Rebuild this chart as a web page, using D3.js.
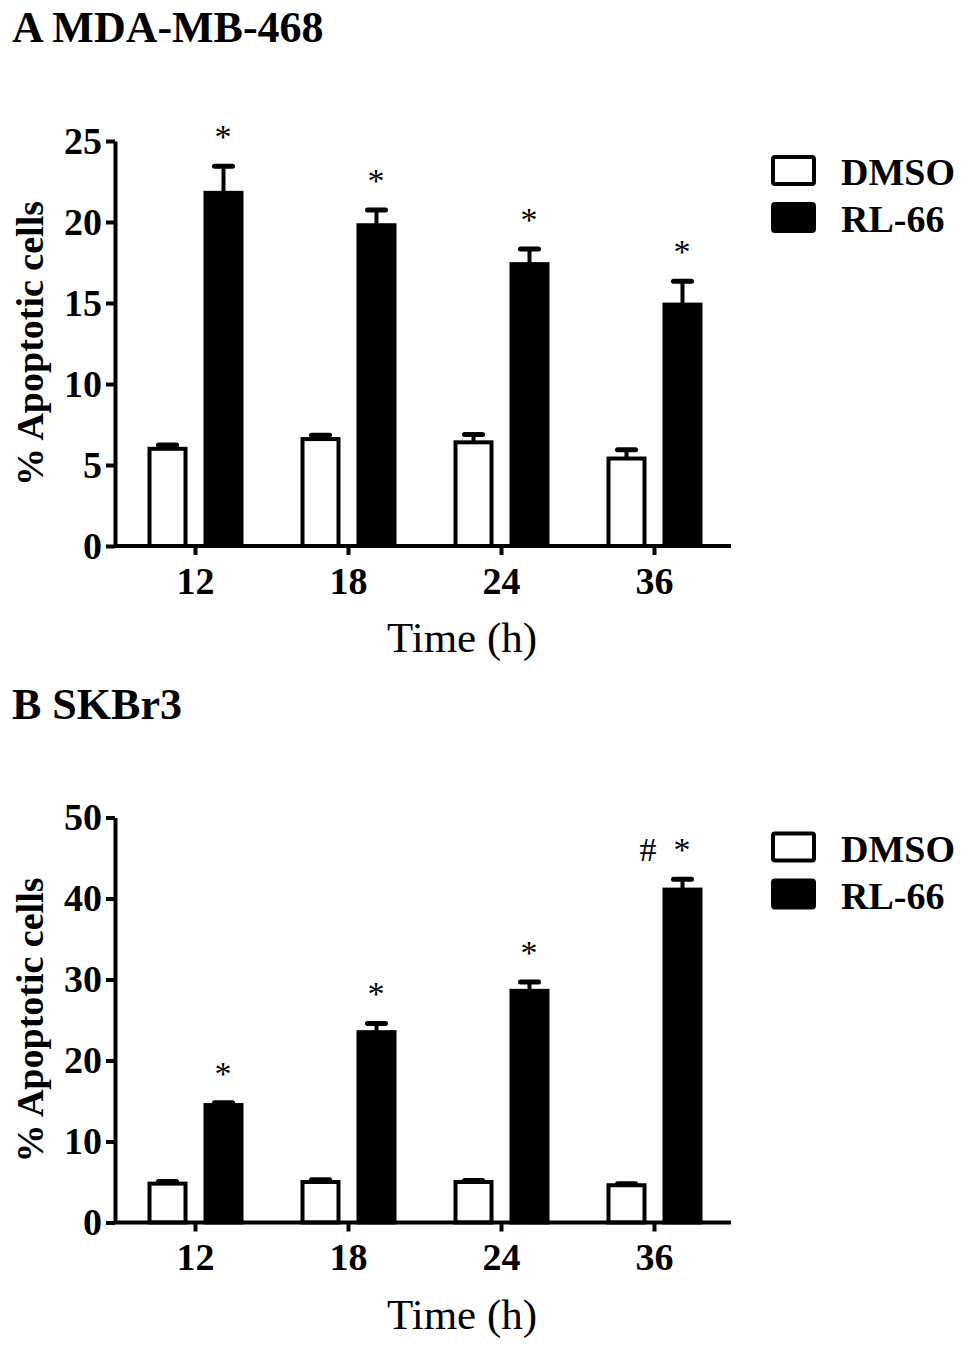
<!DOCTYPE html>
<html>
<head>
<meta charset="utf-8">
<script src="https://cdn.jsdelivr.net/npm/d3@7"></script>
<style>
    body { margin: 0; background: #fff; }
    svg text { font-family: "Liberation Serif", "Times New Roman", serif; }
</style>
</head>
<body>
<div class="wrapper"></div>
<script>
let width = 969;
let height = 1350;

const times = ["12", "18", "24", "36"];
const seriesNames = ["DMSO", "RL-66"];

// panel A, MDA-MB-468
const aDmso = [6.0, 6.6, 6.4, 5.4];
const aDmsoErr = [0.3, 0.3, 0.55, 0.6];
const aRl = [21.8, 19.8, 17.4, 14.9];
const aRlErr = [1.7, 1.0, 1.0, 1.5];
const aMarks = ["*", "*", "*", "*"];
const aTicks = [0, 5, 10, 15, 20, 25];

// panel B, SKBr3
const bDmso = [4.8, 5.0, 5.0, 4.6];
const bDmsoErr = [0.4, 0.4, 0.3, 0.3];
const bRl = [14.5, 23.5, 28.6, 41.1];
const bRlErr = [0.4, 1.2, 1.2, 1.4];
const bMarks = ["*", "*", "*", "#  *"];
const bTicks = [0, 10, 20, 30, 40, 50];

let svg = d3.select(".wrapper")
    .append("svg")
    .attr("width", width)
    .attr("height", height);

function drawPanel(top, title, dmso, dmsoErr, rl, rlErr, marks, ticks) {
    let g = svg.append("g").attr("transform", "translate(0," + top + ")");

    let axisX = 115;
    let y = d3.scaleLinear()
        .domain([0, d3.max(ticks)])
        .range([546, 141]);

    let x0 = d3.scaleBand()
        .domain(times)
        .range([119, 731]);

    let x1 = d3.scaleBand()
        .domain(seriesNames)
        .range([0, x0.bandwidth()])
        .paddingInner(0.357)
        .paddingOuter(0.545);

    let rows = times.map(function (t, i) {
        return [
            {time: t, name: "DMSO", value: dmso[i], err: dmsoErr[i]},
            {time: t, name: "RL-66", value: rl[i], err: rlErr[i], mark: marks[i]}
        ];
    });
    let bars = rows.flat();

    g.append("text")
        .attr("x", 12)
        .attr("y", 42)
        .attr("font-size", 44)
        .attr("font-weight", "bold")
        .text(title);

    // error bars (upper only)
    let err = g.selectAll(".err")
        .data(bars)
        .enter()
        .append("g")
        .classed("err", true);

    err.append("line")
        .attr("x1", function (d) {return x0(d.time) + x1(d.name) + x1.bandwidth() / 2})
        .attr("x2", function (d) {return x0(d.time) + x1(d.name) + x1.bandwidth() / 2})
        .attr("y1", function (d) {return y(d.value)})
        .attr("y2", function (d) {return y(d.value + d.err)})
        .attr("stroke", "#000")
        .attr("stroke-width", 4);

    err.append("line")
        .attr("x1", function (d) {return x0(d.time) + x1(d.name) + x1.bandwidth() / 2 - 9})
        .attr("x2", function (d) {return x0(d.time) + x1(d.name) + x1.bandwidth() / 2 + 9})
        .attr("y1", function (d) {return y(d.value + d.err) + 1})
        .attr("y2", function (d) {return y(d.value + d.err) + 1})
        .attr("stroke", "#000")
        .attr("stroke-width", 5)
        .attr("stroke-linecap", "round");

    g.selectAll(".bar")
        .data(bars)
        .enter()
        .append("rect")
        .classed("bar", true)
        .attr("x", function (d) {return x0(d.time) + x1(d.name)})
        .attr("y", function (d) {return y(d.value)})
        .attr("width", x1.bandwidth())
        .attr("height", function (d) {return y(0) - y(d.value)})
        .attr("fill", function (d) {return d.name === "DMSO" ? "#fff" : "#000"})
        .attr("stroke", "#000")
        .attr("stroke-width", 4);

    g.selectAll(".mark")
        .data(bars.filter(function (d) {return d.mark}))
        .enter()
        .append("text")
        .classed("mark", true)
        .attr("x", function (d) {return x0(d.time) + x1(d.name) + x1.bandwidth() / 2 + 8})
        .attr("y", function (d) {return y(d.value + d.err) - 17})
        .attr("text-anchor", "end")
        .attr("font-size", 34)
        .style("white-space", "pre")
        .text(function (d) {return d.mark});

    // axes
    let yAxis = g.append("g")
        .attr("transform", "translate(" + axisX + ",0)")
        .call(d3.axisLeft(y).tickValues(ticks).tickSize(9).tickSizeOuter(0).tickPadding(4));

    let xAxis = g.append("g")
        .attr("transform", "translate(0," + y(0) + ")")
        .call(d3.axisBottom(x0).tickSize(9).tickSizeOuter(0).tickPadding(12));

    xAxis.select(".domain")
        .attr("d", "M" + axisX + ",0H" + x0.range()[1]);

    [yAxis, xAxis].forEach(function (a) {
        a.selectAll("path, line").attr("stroke", "#000").attr("stroke-width", 4);
        a.selectAll("text")
            .attr("font-family", "Liberation Serif, Times New Roman, serif")
            .attr("font-size", 38)
            .attr("font-weight", "bold")
            .attr("fill", "#000");
    });

    g.append("text")
        .attr("transform", "translate(43," + (y(0) + y(d3.max(ticks))) / 2 + ") rotate(-90)")
        .attr("text-anchor", "middle")
        .attr("font-size", 38)
        .attr("font-weight", "bold")
        .text("% Apoptotic cells");

    g.append("text")
        .attr("x", (axisX + x0.range()[1]) / 2 + 39)
        .attr("y", 652)
        .attr("text-anchor", "middle")
        .attr("font-size", 43)
        .text("Time (h)");

    // legend
    let legend = g.selectAll(".legend")
        .data(seriesNames)
        .enter()
        .append("g")
        .classed("legend", true)
        .attr("transform", function (d, i) {return "translate(773," + (157 + i * 47) + ")"});

    legend.append("rect")
        .attr("width", 41)
        .attr("height", 27)
        .attr("rx", 2)
        .attr("fill", function (d) {return d === "DMSO" ? "#fff" : "#000"})
        .attr("stroke", "#000")
        .attr("stroke-width", 4);

    legend.append("text")
        .attr("x", 68)
        .attr("y", 28)
        .attr("font-size", 38)
        .attr("font-weight", "bold")
        .text(function (d) {return d});
}

drawPanel(0, "A MDA-MB-468", aDmso, aDmsoErr, aRl, aRlErr, aMarks, aTicks);
drawPanel(676.5, "B SKBr3", bDmso, bDmsoErr, bRl, bRlErr, bMarks, bTicks);
</script>
</body>
</html>
